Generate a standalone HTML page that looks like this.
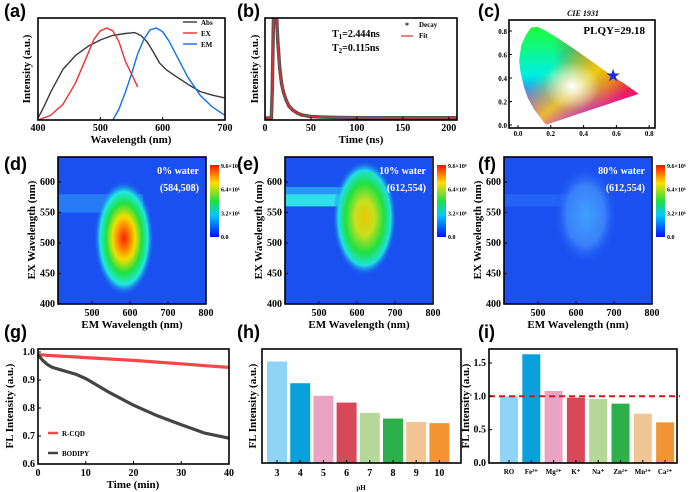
<!DOCTYPE html>
<html><head><meta charset="utf-8"><style>
html,body{margin:0;padding:0;background:#fff;width:700px;height:492px;overflow:hidden}
svg{display:block}
text{font-family:"Liberation Serif",serif;font-weight:bold;fill:#000}
.pl{font-family:"Liberation Sans",sans-serif;font-size:18px;font-weight:bold}
</style></head><body>
<svg id="s" width="700" height="492" viewBox="0 0 700 492" xmlns="http://www.w3.org/2000/svg">
<defs>
<linearGradient id="cbar" x1="0" y1="1" x2="0" y2="0">
<stop offset="0" stop-color="#0010ff"/><stop offset="0.3" stop-color="#00c8ff"/><stop offset="0.5" stop-color="#20e040"/><stop offset="0.75" stop-color="#ffe000"/><stop offset="1" stop-color="#ff1000"/></linearGradient>
<radialGradient id="blobD"><stop offset="0" stop-color="#ff2000"/><stop offset="0.2" stop-color="#ff8000"/><stop offset="0.38" stop-color="#f0e000"/><stop offset="0.6" stop-color="#20e040"/><stop offset="0.8" stop-color="#20e8e0"/><stop offset="1" stop-color="#1a50f0" stop-opacity="0"/></radialGradient>
<radialGradient id="blobE"><stop offset="0" stop-color="#e8c800"/><stop offset="0.3" stop-color="#c8e020"/><stop offset="0.6" stop-color="#20e040"/><stop offset="0.82" stop-color="#20e0e0"/><stop offset="1" stop-color="#1a50f0" stop-opacity="0"/></radialGradient>
<radialGradient id="blobF"><stop offset="0" stop-color="#40a0ff"/><stop offset="0.6" stop-color="#3a80fa"/><stop offset="1" stop-color="#1a50f0" stop-opacity="0"/></radialGradient>
<linearGradient id="cieV" x1="0" y1="0" x2="0" y2="1"><stop offset="0" stop-color="#20ff20"/><stop offset="0.5" stop-color="#00f0e0"/><stop offset="1" stop-color="#2020ff"/></linearGradient>
<linearGradient id="cieH" x1="0" y1="0" x2="1" y2="0"><stop offset="0.3" stop-color="#ff0000" stop-opacity="0"/><stop offset="0.7" stop-color="#ff4000" stop-opacity="0.8"/><stop offset="1" stop-color="#ff0030" stop-opacity="1"/></linearGradient>
<linearGradient id="cieM" x1="0" y1="0" x2="0" y2="1"><stop offset="0.55" stop-color="#ff00ff" stop-opacity="0"/><stop offset="1" stop-color="#e000ff" stop-opacity="0.9"/></linearGradient>
<linearGradient id="cieY" x1="0" y1="0" x2="1" y2="1"><stop offset="0.35" stop-color="#ffff00" stop-opacity="0"/><stop offset="0.55" stop-color="#ffe000" stop-opacity="0.8"/><stop offset="0.75" stop-color="#ffe000" stop-opacity="0"/></linearGradient>
<radialGradient id="cieW"><stop offset="0" stop-color="#fff"/><stop offset="1" stop-color="#fff" stop-opacity="0"/></radialGradient>
<clipPath id="clipB"><rect x="265" y="18" width="192" height="102"/></clipPath>
<clipPath id="clipD"><rect x="58" y="157" width="148" height="147"/></clipPath>
<clipPath id="clipE"><rect x="285" y="157" width="147" height="147"/></clipPath>
<clipPath id="clipF"><rect x="504" y="157" width="147" height="147"/></clipPath>
</defs>
</svg>
<script>
// ---- data ----
const absX=[400,410,420,440,460,480,500,520,540,555,565,575,585,595,605,620,640,660,680,700];
const absY=[0.02,0.15,0.3,0.55,0.7,0.8,0.87,0.92,0.94,0.95,0.92,0.85,0.74,0.62,0.55,0.48,0.39,0.31,0.27,0.24];
const exX=[400,420,440,460,480,490,500,510,520,530,540,550,560];
const exY=[0.0,0.05,0.17,0.4,0.72,0.88,0.97,1.0,0.97,0.85,0.64,0.5,0.36];
const emX=[520,530,540,550,560,570,580,590,600,610,620,640,660,680,700];
const emY=[0.0,0.12,0.3,0.5,0.72,0.88,0.98,1.0,0.96,0.86,0.73,0.47,0.27,0.14,0.05];
const decT=[0,7,8,9,10,11,12,13,14,16,18,20,23,26,30,35,40,50,60,80,100,150,209];
const decI=[0,0,0.3,0.9,1.3,1.3,1.2,0.95,0.75,0.5,0.35,0.26,0.18,0.12,0.08,0.05,0.03,0.015,0.01,0.005,0.003,0.002,0.002];
const cieStar=[0.58,0.42];
const heatCenters=[[584,508],[612,554],[612,554]];
const heatLabels=['0% water','10% water','80% water'];
const cbTicks=['9.6×10⁶','6.4×10⁶','3.2×10⁶','0.0'];
const gT=[0,1,2,3,5,8,10,15,20,25,30,35,40];
const gR=[0.99,0.99,0.988,0.987,0.985,0.982,0.98,0.975,0.97,0.964,0.958,0.951,0.945];
const gB=[0.99,0.97,0.955,0.945,0.935,0.92,0.905,0.855,0.81,0.772,0.74,0.71,0.692];
const pH=['3','4','5','6','7','8','9','10'];
const pHVal=[0.89,0.70,0.59,0.53,0.44,0.39,0.36,0.35];
const pHCol=['#8fd3f5','#0aa0dc','#eba3c3','#d9485a','#b5d898','#2db04b','#f2c595','#f39433'];
const ions=['RO','Fe²⁺','Mg²⁺','K⁺','Na⁺','Zn²⁺','Mn²⁺','Ca²⁺'];
const ionVal=[1.0,1.63,1.08,0.98,0.96,0.89,0.74,0.61];

const svg=document.getElementById('s');const NS='http://www.w3.org/2000/svg';
function mk(tag,a,p){const e=document.createElementNS(NS,tag);for(const k in a)e.setAttribute(k,a[k]);(p||svg).appendChild(e);return e;}
function tx(x,y,s,sz,anc,p,extra){const e=mk('text',Object.assign({x:x,y:y,'font-size':sz,'text-anchor':anc||'middle'},extra||{}),p);e.textContent=s;return e;}
function grp(name){const g=mk('g',{});return g;}
function line(xs,ys,fx,fy,col,w,p,extra){let d='';xs.forEach((v,i)=>{d+=(i?'L':'M')+fx(v).toFixed(1)+','+fy(ys[i]).toFixed(1);});return mk('path',Object.assign({d:d,fill:'none',stroke:col,'stroke-width':w,'stroke-linejoin':'round'},extra||{}),p);}
function box(p,x,y,w,h){const r=mk('rect',{x:x,y:y,width:w,height:h,fill:'none',stroke:'#000','stroke-width':1.6},p);return r;}
function xt(p,vals,fx,y0,ly,sz,labels){vals.forEach((v,i)=>{mk('line',{x1:fx(v),x2:fx(v),y1:y0,y2:y0-3,stroke:'#000','stroke-width':1},p);const t=tx(fx(v),ly,labels?labels[i]:String(v),sz,'middle',p);});}
function yt(p,vals,fy,x0,lx,sz,labels){vals.forEach((v,i)=>{mk('line',{x1:x0,x2:x0+3,y1:fy(v),y2:fy(v),stroke:'#000','stroke-width':1},p);const t=tx(lx,fy(v)+3,labels?labels[i]:String(v),sz,'end',p);});}
function ytitle(p,x,y,s,sz){const t=tx(x,y,s,sz,'middle',p,{transform:'rotate(-90 '+x+' '+y+')'});return t;}
function xtitle(p,x,y,s,sz){const t=tx(x,y,s,sz,'middle',p);return t;}
function plabel(x,y,s){const t=tx(x,y,s,18,'start',svg,{class:'pl'});}

// ---- panel a ----
let g=grp('panel-a-spectra');
const xa=v=>38+(v-400)*187/300, ya=v=>120-92*v;
let e=line(absX,absY,xa,ya,'#3a3a3a',1.4,g);

e=line(exX,exY,xa,ya,'#f03030',1.4,g);

e=line(emX,emY,xa,ya,'#1070e8',1.4,g);

box(g,38,18,187,102);
xt(g,[400,500,600,700],xa,120,131,10);
xtitle(g,131,143,'Wavelength (nm)',11);ytitle(g,30,69,'Intensity (a.u.)',11);
[['Abs','#3a3a3a',25],['EX','#f03030',36],['EM','#1070e8',47]].forEach(r=>{const l=mk('line',{x1:183,x2:197,y1:r[2]-3,y2:r[2]-3,stroke:r[1],'stroke-width':1.4},g);const t=tx(201,r[2],r[0],7,'start',g);});
plabel(4,17,'(a)');

// ---- panel b ----
g=grp('panel-b-decay');
const xb=t=>265+t*192/209, yb=v=>118-v*100;
const gb=mk('g',{'clip-path':'url(#clipB)'},g);
e=line(decT,decI,xb,yb,'#555',3.5,gb);

decT.forEach((t,i)=>{if(t<60){const c=mk('circle',{cx:xb(t),cy:yb(decI[i]),r:1.4,fill:'#803030'},gb);}});
e=line(decT,decI,xb,yb,'#e03030',1.3,gb);

box(g,265,18,192,102);
xt(g,[0,50,100,150,200],xb,120,131,10);
xtitle(g,361,143,'Time (ns)',11);ytitle(g,258,69,'Intensity (a.u.)',11);
e=tx(332,37,'',10,'start',g);e.innerHTML='T<tspan font-size="7" dy="2">1</tspan><tspan dy="-2">=2.444ns</tspan>';

e=tx(332,51,'',10,'start',g);e.innerHTML='T<tspan font-size="7" dy="2">2</tspan><tspan dy="-2">=0.115ns</tspan>';

e=tx(407,28,'*',8,'middle',g);
e=tx(419,27,'Decay',7,'start',g);
e=mk('line',{x1:401,x2:413,y1:36,y2:36,stroke:'#e03030','stroke-width':1.2},g);
e=tx(419,38,'Fit',7,'start',g);
plabel(237,17,'(b)');

// ---- panel c ----
g=grp('panel-c-cie');
const xc=v=>518+v*164, yc=v=>125-v*117.5;
const horse=[[0.175,0.005],[0.16,0.02],[0.14,0.06],[0.1,0.13],[0.06,0.23],[0.035,0.33],[0.015,0.45],[0.007,0.55],[0.02,0.68],[0.05,0.77],[0.08,0.83],[0.12,0.835],[0.17,0.8],[0.23,0.75],[0.35,0.64],[0.45,0.54],[0.55,0.44],[0.65,0.35],[0.735,0.265]];
let d='';horse.forEach((p,i)=>{d+=(i?'L':'M')+xc(p[0])+','+yc(p[1]);});d+='Z';
mk('clipPath',{id:'cieClip'},svg.querySelector('defs'));
mk('path',{d:d},document.getElementById('cieClip'));
const cg=mk('g',{'clip-path':'url(#cieClip)'},g);

[['cieV'],['cieH'],['cieM'],['cieY']].forEach(r=>mk('rect',{x:515,y:20,width:130,height:108,fill:'url(#'+r[0]+')'},cg));
mk('ellipse',{cx:xc(0.33),cy:yc(0.33),rx:28,ry:24,fill:'url(#cieW)'},cg);
box(g,509,20,146,108);
xt(g,[0,0.2,0.4,0.6,0.8],xc,128,136,7,['0.0','0.2','0.4','0.6','0.8']);
yt(g,[0,0.2,0.4,0.6,0.8],yc,509,507,7,['0.0','0.2','0.4','0.6','0.8']);
e=tx(xc(cieStar[0]),yc(cieStar[1])+5,'★',15,'middle',g,{style:'fill:#1a28e8'});

e=tx(583,16,'CIE 1931',8,'middle',g,{'font-style':'italic'});
e=tx(645,34,'PLQY=29.18',11,'end',g);
plabel(478,17,'(c)');

// ---- panels d e f ----
const lefts=[58,285,504];const names=['d','e','f'];
lefts.forEach((L,k)=>{
 const gg=grp('panel-'+names[k]+'-heatmap');
 const xh=v=>L+34+(v-500)*0.38, yh=v=>304-(v-400)*0.61;
 const hm=mk('g',{'clip-path':'url(#clip'+names[k].toUpperCase()+')'},gg);
 
 mk('rect',{x:L,y:157,width:148,height:147,fill:'#1a50f0'},hm);
 const c=heatCenters[k];
 if(k===0){mk('rect',{x:L,y:yh(580),width:85,height:yh(550)-yh(580),fill:'#30a0f8',opacity:0.55},hm);
  mk('ellipse',{cx:xh(c[0]),cy:yh(c[1]),rx:30,ry:58,fill:'url(#blobD)'},hm);}
 if(k===1){mk('rect',{x:L,y:yh(580),width:xh(575)-L,height:yh(560)-yh(580),fill:'#30e0e8'},hm);
  mk('rect',{x:L,y:yh(592),width:xh(575)-L,height:yh(580)-yh(592),fill:'#30b8f8',opacity:0.7},hm);
  mk('ellipse',{cx:xh(c[0])+3,cy:yh(c[1])+8,rx:32,ry:58,fill:'url(#blobE)'},hm);}
 if(k===2){mk('rect',{x:L,y:yh(580),width:80,height:yh(560)-yh(580),fill:'#2a70f8',opacity:0.6},hm);
  mk('ellipse',{cx:xh(c[0])+5,cy:yh(c[1])+5,rx:32,ry:50,fill:'url(#blobF)'},hm);}
 box(gg,L,157,148,147);
 xt(gg,[500,600,700,800],xh,304,316,10);
 yt(gg,[400,450,500,550,600],yh,L,L-3,10);
 xtitle(gg,L+74,328,'EM Wavelength (nm)',11);
 ytitle(gg,L-23,230,'EX Wavelength (nm)',11);
 let t=tx(L+141,174,heatLabels[k],10,'end',gg,{style:'fill:#fff'});
 t=tx(L+141,191,'('+c[0]+','+c[1]+')',10,'end',gg,{style:'fill:#fff'});
 const cb=mk('rect',{x:L+152,y:165,width:9,height:72,fill:'url(#cbar)'},gg);
 
 cbTicks.forEach((s,i)=>{const tt=tx(L+163,168+i*23.7,s,6,'start',gg);});
 plabel([4,237,478][k],170,'('+names[k]+')');
});

// ---- panel g ----
g=grp('panel-g-stability');
const xg=v=>38+v*191/40, yg=v=>464-(v-0.6)*280;
e=line(gT,gR,xg,yg,'#f04848',3.2,g);
e=line(gT,gB,xg,yg,'#444',3.2,g);
box(g,38,349,191,115);
xt(g,[0,10,20,30,40],xg,464,476,10);
yt(g,[0.6,0.7,0.8,0.9,1.0],yg,38,35,10,['0.6','0.7','0.8','0.9','1.0']);
xtitle(g,133,488,'Time (min)',11);ytitle(g,13,406,'FL Intensity (a.u.)',11);
[['R-CQD','#f04848',436],['BODIPY','#444',456]].forEach(r=>{const l=mk('line',{x1:48,x2:58,y1:r[2]-3,y2:r[2]-3,stroke:r[1],'stroke-width':2.5},g);const t=tx(62,r[2],r[0],7,'start',g);});
plabel(4,338,'(g)');

// ---- panel h ----
g=grp('panel-h-ph');
const xhh=i=>277+i*23.2, yhh=v=>463-v*114;
pHVal.forEach((v,i)=>{const b=mk('rect',{x:xhh(i)-10,y:yhh(v),width:20,height:463-yhh(v),fill:pHCol[i]},g);});
box(g,262,349,199,114);
xt(g,pH.map((_,i)=>i),xhh,463,476,10,pH);
xtitle(g,361,490,'pH',7);ytitle(g,256,406,'FL Intensity (a.u.)',11);
plabel(237,338,'(h)');

// ---- panel i ----
g=grp('panel-i-ions');
const xi=i=>509+i*22.3, yi=v=>463-v*66.7;
ionVal.forEach((v,i)=>{const b=mk('rect',{x:xi(i)-9,y:yi(v),width:18,height:463-yi(v),fill:pHCol[i]},g);});
e=mk('line',{x1:489,x2:680,y1:yi(1),y2:yi(1),stroke:'#d01818','stroke-width':2,'stroke-dasharray':'6,4'},g);
box(g,489,349,188,114);
xt(g,ions.map((_,i)=>i),xi,463,474,7,ions);
yt(g,[0,0.5,1.0,1.5],yi,489,486,10,['0.0','0.5','1.0','1.5']);
ytitle(g,469,406,'FL Intensity (a.u.)',11);
plabel(478,338,'(i)');
</script>
</body></html>
